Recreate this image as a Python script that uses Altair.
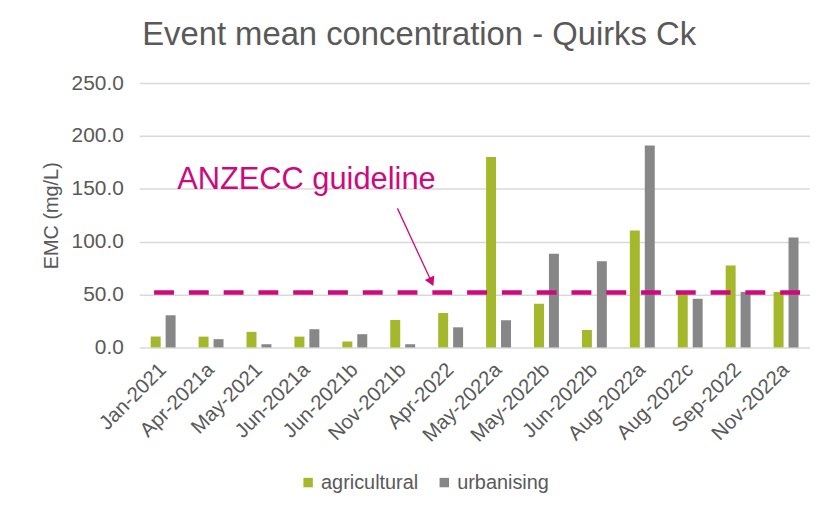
import altair as alt
import pandas as pd

categories = ["Jan-2021", "Apr-2021a", "May-2021", "Jun-2021a", "Jun-2021b",
              "Nov-2021b", "Apr-2022", "May-2022a", "May-2022b", "Jun-2022b",
              "Aug-2022a", "Aug-2022c", "Sep-2022", "Nov-2022a"]
agricultural = [10.3, 10.2, 14.7, 10.2, 5.6, 26.0, 32.5, 180.0, 41.3, 16.5, 110.5, 50.5, 77.5, 52.5]
urbanising = [30.4, 7.8, 3.0, 17.2, 12.5, 3.0, 19.0, 25.7, 88.5, 81.5, 191.0, 46.0, 52.5, 104.0]
series = ["agricultural", "urbanising"]
colors = ["#A5B72A", "#878787"]
guideline = 52.0
y_ticks = [0, 50, 100, 150, 200, 250]

# annotation (in category-index units on x, data units on y)
ann_text = "ANZECC guideline"
ann_text_x = 3.49
ann_text_y = 158.0
arrow_x = [5.39, 6.10]
arrow_y = [131.5, 62.0]

rows = []
for i, c in enumerate(categories):
    rows.append({"cat": c, "series": series[0], "value": agricultural[i]})
    rows.append({"cat": c, "series": series[1], "value": urbanising[i]})
df = pd.DataFrame(rows)

GRAY = "#595959"
FONT = "Liberation Sans"
MAG = "#CC0A7E"

yscale = alt.Scale(domain=[0, 250], nice=False)

bars = alt.Chart(df).mark_bar().encode(
    x=alt.X("cat:N", sort=categories,
            scale=alt.Scale(paddingInner=0, paddingOuter=0),
            axis=alt.Axis(title=None, labelAngle=-45, labelAlign="right",
                          labelBaseline="middle", labelFontSize=20.5,
                          labelColor=GRAY, labelFont=FONT, ticks=False,
                          domain=False, labelPadding=19)),
    xOffset=alt.XOffset("series:N", sort=series,
                        scale=alt.Scale(paddingInner=0.333, paddingOuter=0.77)),
    y=alt.Y("value:Q", scale=yscale,
            axis=alt.Axis(title="EMC (mg/L)", values=y_ticks, format=".1f",
                          labelFontSize=21, labelColor=GRAY, labelFont=FONT,
                          titleFontSize=20, titleColor=GRAY, titleFont=FONT,
                          titleFontWeight="normal", titlePadding=10,
                          ticks=False, domain=False, labelPadding=16,
                          grid=True, gridColor="#D9D9D9", gridWidth=1.5)),
    color=alt.Color("series:N", sort=series,
                    scale=alt.Scale(domain=series, range=colors),
                    legend=alt.Legend(title=None, orient="none", legendX=160,
                                      legendY=392, direction="horizontal",
                                      symbolType="square", symbolSize=90,
                                      symbolStrokeWidth=0, labelFontSize=20,
                                      labelColor=GRAY, labelFont=FONT,
                                      labelOffset=3, columnPadding=16)),
)

guide_df = pd.DataFrame({"y": [guideline]})
rule = alt.Chart(guide_df).mark_rule(
    color=MAG, strokeWidth=4.5, strokeDash=[20, 15], strokeDashOffset=25
).encode(y=alt.Y("y:Q", scale=yscale))

xq = alt.Scale(domain=[0, len(categories)], nice=False, zero=False)

text_df = pd.DataFrame({"x": [ann_text_x], "y": [ann_text_y], "t": [ann_text]})
text = alt.Chart(text_df).mark_text(
    color=MAG, fontSize=31, font=FONT, align="center", baseline="middle"
).encode(
    x=alt.X("x:Q", scale=xq, axis=None),
    y=alt.Y("y:Q", scale=yscale),
    text="t:N",
)

arrow_df = pd.DataFrame({"x": [arrow_x[0]], "x2": [arrow_x[1]],
                         "y": [arrow_y[0]], "y2": [arrow_y[1]]})
arrow_line = alt.Chart(arrow_df).mark_rule(color=MAG, strokeWidth=1.3).encode(
    x=alt.X("x:Q", scale=xq, axis=None),
    x2="x2:Q",
    y=alt.Y("y:Q", scale=yscale),
    y2="y2:Q",
)
head_df = pd.DataFrame({"x": [arrow_x[1]], "y": [arrow_y[1]]})
arrow_head = alt.Chart(head_df).mark_point(
    shape="triangle-up", filled=True, color=MAG, size=110, angle=155, opacity=1
).encode(
    x=alt.X("x:Q", scale=xq, axis=None),
    y=alt.Y("y:Q", scale=yscale),
)

chart = alt.layer(bars, rule, text, arrow_line, arrow_head).resolve_scale(
    x="independent"
).properties(
    width=675, height=266,
    title=alt.TitleParams("Event mean concentration - Quirks Ck", anchor="start",
                          frame="group", dx=3, offset=20, fontSize=33,
                          color=GRAY, font=FONT, fontWeight="normal"),
    autosize=alt.AutoSizeParams(type="none"),
    padding={"left": 132, "top": 74, "right": 0, "bottom": 150},
).configure_view(stroke=None)

chart.save("out.html", embed_options={"renderer": "svg", "actions": False})
